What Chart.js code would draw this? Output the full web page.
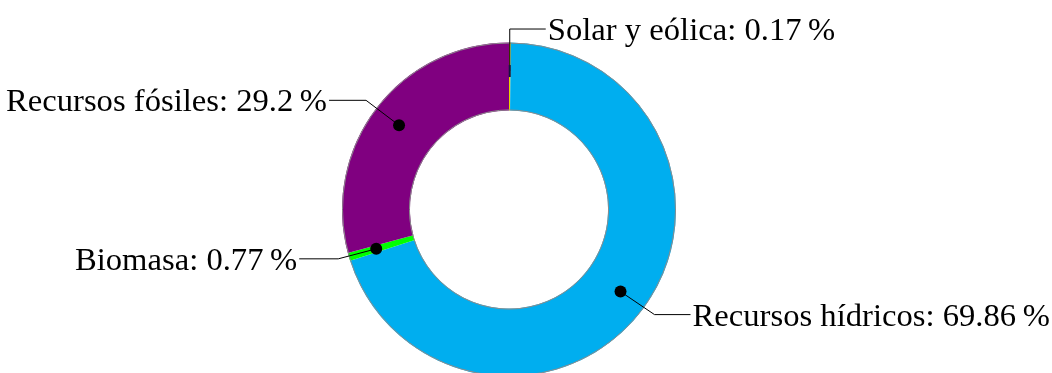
<!DOCTYPE html>
<html>
<head>
<meta charset="utf-8">
<script src="https://cdn.jsdelivr.net/npm/chart.js@4"></script>
<style>
  html, body { margin: 0; padding: 0; background: #fff; overflow: hidden; }
  #wrap { width: 1052px; height: 373px; }
</style>
</head>
<body>
<div id="wrap"><canvas id="donut" width="1052" height="373"></canvas></div>
<script>
// datos (porcentajes de la generación)
const labels = ['Solar y eólica', 'Recursos hídricos', 'Biomasa', 'Recursos fósiles'];
const values = [0.17, 69.86, 0.77, 29.2];
const valueText = ['0.17', '69.86', '0.77', '29.2'];
const colors = ['#e8d200', '#00aeef', '#00ff00', '#800080'];

// leader lines: bend offset from the dot, then horizontal run
const leaders = [
  { bx: 0, by: -42, run: 36, dot: 0 },
  { bx: 34, by: 23, run: 36, dot: 6 },
  { bx: -38, by: 10, run: -39, dot: 6 },
  { bx: -33, by: -25, run: -37, dot: 6 },
];

const labelPlugin = {
  id: 'leaderLabels',
  afterDatasetsDraw(chart) {
    const ctx = chart.ctx;
    const meta = chart.getDatasetMeta(0);
    const sx = 1.02; // serif font a bit narrower than the original, stretch it
    ctx.save();

    // thin gray outline of the ring only (no borders between slices)
    const p0 = meta.data[0].getProps(['x', 'y', 'innerRadius', 'outerRadius'], true);
    ctx.strokeStyle = '#8c8c8c';
    ctx.lineWidth = 1;
    ctx.beginPath();
    ctx.arc(p0.x, p0.y, p0.outerRadius - 0.5, 0, Math.PI * 2);
    ctx.stroke();
    ctx.beginPath();
    ctx.arc(p0.x, p0.y, p0.innerRadius + 0.5, 0, Math.PI * 2);
    ctx.stroke();

    ctx.font = '32px "Liberation Serif", "DejaVu Serif", serif';
    ctx.textBaseline = 'alphabetic';
    meta.data.forEach((arc, i) => {
      const p = arc.getProps(['x', 'y', 'startAngle', 'endAngle', 'innerRadius', 'outerRadius'], true);
      const a = (p.startAngle + p.endAngle) / 2;
      const r = p.innerRadius + 0.58 * (p.outerRadius - p.innerRadius);
      const dx = p.x + Math.cos(a) * r;
      const dy = p.y + Math.sin(a) * r;
      const L = leaders[i];
      const bx = dx + L.bx, by = dy + L.by;
      const ex = bx + L.run;
      ctx.strokeStyle = '#000';
      ctx.lineWidth = 1;
      ctx.beginPath();
      ctx.moveTo(dx, dy);
      ctx.lineTo(bx, by);
      ctx.lineTo(ex, by);
      ctx.stroke();
      ctx.fillStyle = '#000';
      if (L.dot > 0) {
        ctx.beginPath();
        ctx.arc(dx, dy, L.dot, 0, Math.PI * 2);
        ctx.fill();
      } else {
        ctx.fillStyle = '#14143c';
        ctx.fillRect(dx - 1, dy - 6, 2, 12);
      }
      const txt = labels[i] + ': ' + valueText[i] + '\u2009%';
      ctx.fillStyle = '#000';
      const w = ctx.measureText(txt).width * sx;
      const tx = L.run > 0 ? ex + 2 : ex - 2 - w;
      ctx.save();
      ctx.translate(tx, by + 11);
      ctx.scale(sx, 1);
      ctx.textAlign = 'left';
      ctx.fillText(txt, 0, 0);
      ctx.restore();
    });
    ctx.restore();
  }
};

new Chart(document.getElementById('donut'), {
  type: 'doughnut',
  data: {
    labels: labels,
    datasets: [{
      data: values,
      backgroundColor: colors,
      borderWidth: 0,
    }]
  },
  options: {
    responsive: false,
    animation: false,
    radius: 167,
    cutout: 97,
    layout: { padding: { left: 0, right: 34, top: 46, bottom: 0 } },
    plugins: {
      legend: { display: false },
      tooltip: { enabled: false },
    },
  },
  plugins: [labelPlugin],
});
</script>
</body>
</html>
